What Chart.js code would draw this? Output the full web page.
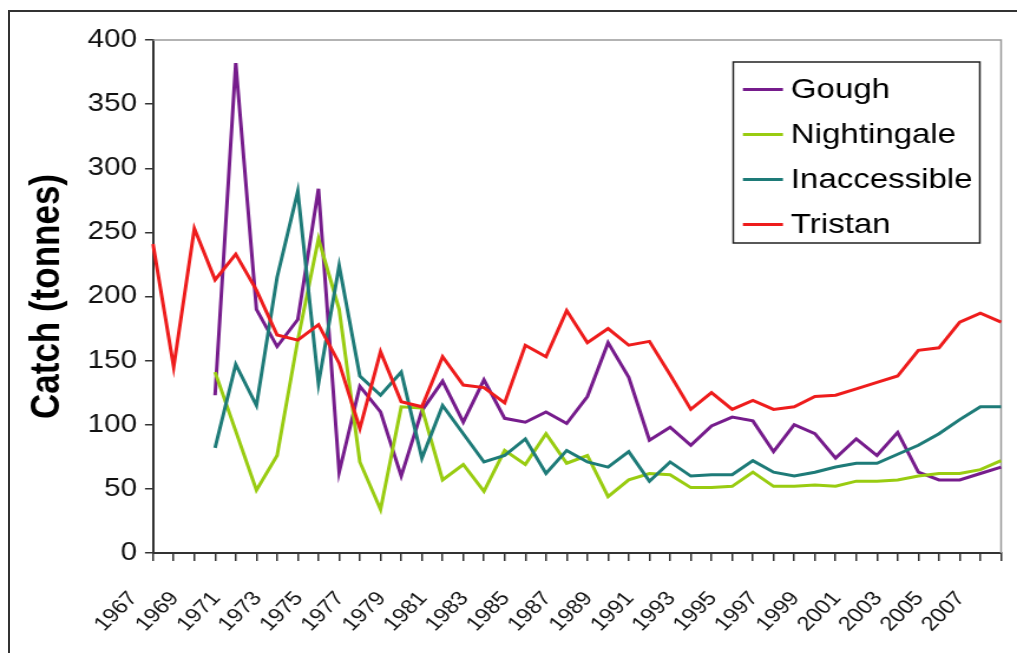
<!DOCTYPE html>
<html><head><meta charset="utf-8">
<script src="https://cdn.jsdelivr.net/npm/chart.js@4.4.1/dist/chart.umd.min.js"></script>
<style>
html,body{margin:0;padding:0;background:#fff;overflow:hidden;width:1017px;height:653px;}
#frame{position:absolute;left:8px;top:10px;width:1040px;height:690px;border:2px solid #333;box-sizing:border-box;}
#wrap{position:absolute;left:0;top:0;width:862px;height:653px;transform:scaleX(1.1798);transform-origin:0 0;}
</style></head><body>
<div id="frame"></div>
<div id="wrap"><canvas id="c" width="862" height="653"></canvas></div>
<script>
const years = ['1967','1968','1969','1970','1971','1972','1973','1974','1975','1976','1977','1978','1979','1980','1981','1982','1983','1984','1985','1986','1987','1988','1989','1990','1991','1992','1993','1994','1995','1996','1997','1998','1999','2000','2001','2002','2003','2004','2005','2006','2007','2008'];
const tickLabels = ['1967','1969','1971','1973','1975','1977','1979','1981','1983','1985','1987','1989','1991','1993','1995','1997','1999','2001','2003','2005','2007'];
const gough = [null,null,null,123,382,190,161,182,284,63,130,110,60,111,134,102,135,105,102,110,101,122,164,137,88,98,84,99,106,103,79,100,93,74,89,76,94,63,57,57,62,67];
const nightingale = [null,null,null,141,95,49,76,166,245,190,71,34,114,113,57,69,48,80,69,93,70,76,44,57,62,61,51,51,52,63,52,52,53,52,56,56,57,60,62,62,65,72];
const inaccessible = [null,null,null,82,147,115,215,282,132,224,138,123,141,74,115,93,71,76,89,62,80,71,67,79,56,71,60,61,61,72,63,60,63,67,70,70,77,84,93,104,114,114];
const tristan = [241,145,253,213,233,205,170,166,178,148,97,157,118,114,153,131,129,117,162,153,189,164,175,162,165,139,112,125,112,119,112,114,122,123,128,133,138,158,160,180,187,180];
const yTicks = [0,50,100,150,200,250,300,350,400];

const FONT = '"Liberation Sans", Arial, sans-serif';

const framePlugin = {
  id: 'plotFrame',
  beforeDatasetsDraw(chart) {
    const {ctx, chartArea: a} = chart;
    ctx.save();
    ctx.strokeStyle = '#9a9a9a';
    ctx.lineWidth = 1.5;
    ctx.beginPath();
    ctx.moveTo(a.left, a.top);
    ctx.lineTo(a.right, a.top);
    ctx.lineTo(a.right, a.bottom);
    ctx.stroke();
    ctx.restore();
  },
  afterDraw(chart) {
    const ctx = chart.ctx;
    const bx = 621.5, by = 62, bw = 209, bh = 181;
    ctx.save();
    ctx.fillStyle = '#fff';
    ctx.fillRect(bx, by, bw, bh);
    ctx.strokeStyle = '#222';
    ctx.lineWidth = 1.5;
    ctx.strokeRect(bx, by, bw, bh);
    ctx.font = '28px ' + FONT;
    ctx.textBaseline = 'middle';
    ctx.textAlign = 'left';
    chart.data.datasets.forEach((ds, i) => {
      const y = 89.5 + i * 45;
      ctx.strokeStyle = ds.borderColor;
      ctx.lineWidth = 3;
      ctx.beginPath();
      ctx.moveTo(629.7, y);
      ctx.lineTo(663.6, y);
      ctx.stroke();
      ctx.fillStyle = '#000';
      ctx.fillText(ds.label, 670.3, y + 1);
    });
    ctx.restore();
  }
};

new Chart(document.getElementById('c'), {
  type: 'line',
  data: {
    labels: years,
    datasets: [
      {label: 'Gough', data: gough, borderColor: '#761c8c', order: 4},
      {label: 'Nightingale', data: nightingale, borderColor: '#99cc11', order: 3},
      {label: 'Inaccessible', data: inaccessible, borderColor: '#1e7b78', order: 2},
      {label: 'Tristan', data: tristan, borderColor: '#ee1c1c', order: 1}
    ]
  },
  options: {
    responsive: false,
    animation: false,
    devicePixelRatio: 1,
    layout: {padding: {left: 0, right: 13.5, top: 40, bottom: 0}},
    elements: {
      line: {borderWidth: 3, tension: 0, fill: false},
      point: {radius: 0, hoverRadius: 0}
    },
    plugins: {legend: {display: false}, tooltip: {enabled: false}},
    scales: {
      x: {
        type: 'category',
        offset: false,
        ticks: {
          autoSkip: false, minRotation: 49, maxRotation: 49,
          color: '#111', font: {family: FONT, size: 20},
          padding: 26, labelOffset: -16.5,
          callback: function(v, i) { const l = years[i]; return tickLabels.includes(l) ? l : ''; }
        },
        grid: {drawOnChartArea: false, drawTicks: true, tickLength: 8, color: '#333', lineWidth: 1.5, offset: false},
        border: {display: true, color: '#333', width: 2},
        afterFit(s) { s.height = 100; s.paddingLeft = 0; s.paddingRight = 0; }
      },
      y: {
        min: 0, max: 400,
        afterBuildTicks(s) { s.ticks = yTicks.map(v => ({value: v})); },
        ticks: {color: '#111', font: {family: FONT, size: 25}, padding: 6.8},
        grid: {drawOnChartArea: false, drawTicks: true, tickLength: 6.8, color: '#333', lineWidth: 1.5},
        border: {display: true, color: '#333', width: 2},
        title: {display: true, text: 'Catch (tonnes)', color: '#000', font: {family: FONT, size: 35, weight: 'bold'}, padding: {top: 19.5, bottom: 0}},
        afterFit(s) { s.width = 129.68; s.paddingTop = 0; s.paddingBottom = 0; }
      }
    }
  },
  plugins: [framePlugin]
});
</script>
</body></html>
